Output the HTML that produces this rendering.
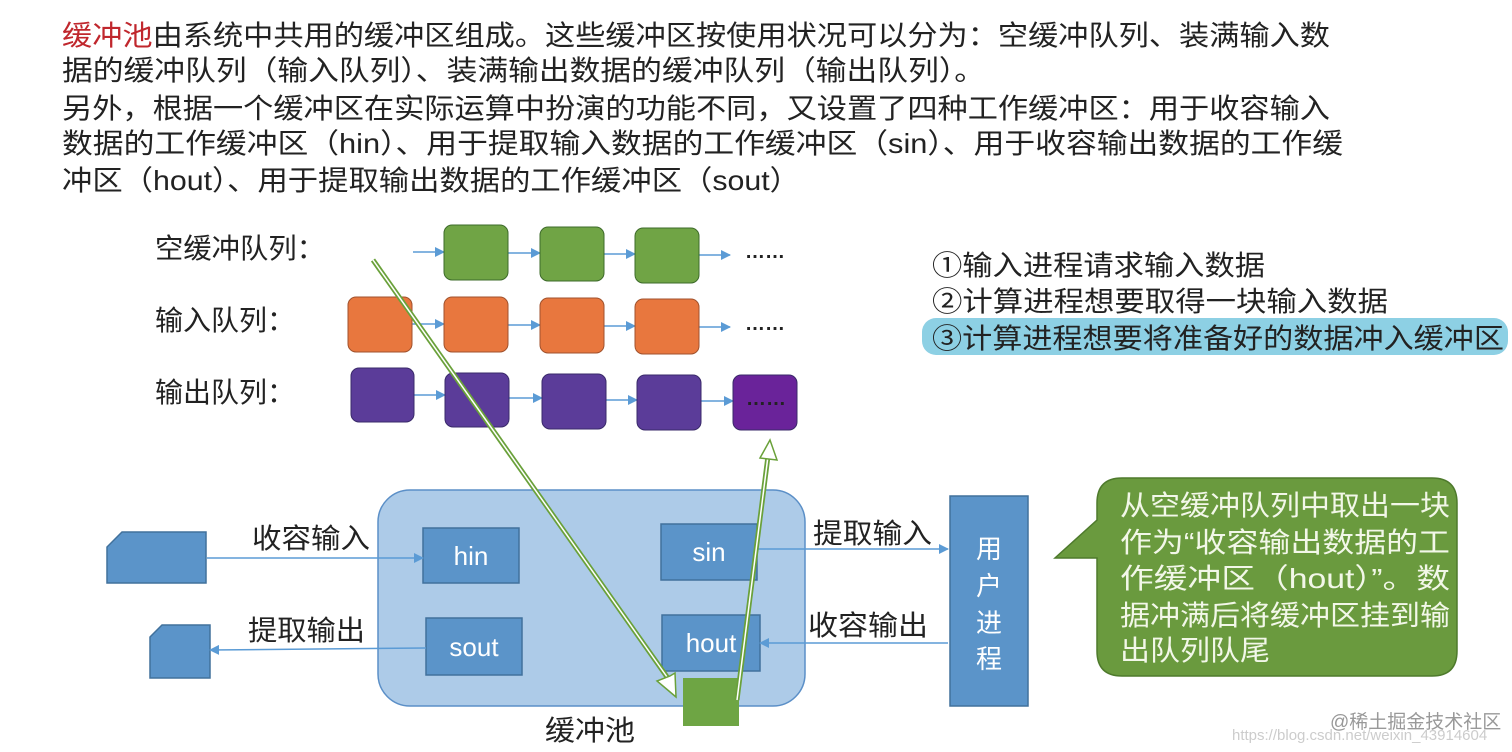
<!DOCTYPE html>
<html><head><meta charset="utf-8"><style>
html,body{margin:0;padding:0;background:#fff;width:1512px;height:752px;overflow:hidden}
svg{display:block}
text{font-family:"Liberation Sans","Noto Sans CJK SC",sans-serif}
</style></head><body>
<svg width="1512" height="752" viewBox="0 0 1512 752" xmlns="http://www.w3.org/2000/svg">
<defs>
<marker id="a" markerWidth="10" markerHeight="10" refX="9" refY="5" orient="auto" markerUnits="userSpaceOnUse"><path d="M0,0 L10,5 L0,10 Z" fill="#5b9bd5"/></marker>
</defs>
<g font-size="28" fill="#222">
<text x="62" y="45" textLength="1268" lengthAdjust="spacingAndGlyphs"><tspan fill="#c0272d">缓冲池</tspan>由系统中共用的缓冲区组成。这些缓冲区按使用状况可以分为：空缓冲队列、装满输入数</text>
<text x="62" y="80" textLength="923" lengthAdjust="spacingAndGlyphs">据的缓冲队列（输入队列）、装满输出数据的缓冲队列（输出队列）。</text>
<text x="62" y="118" textLength="1268" lengthAdjust="spacingAndGlyphs">另外，根据一个缓冲区在实际运算中扮演的功能不同，又设置了四种工作缓冲区：用于收容输入</text>
<text x="62" y="153" textLength="1281" lengthAdjust="spacingAndGlyphs">数据的工作缓冲区（hin）、用于提取输入数据的工作缓冲区（sin）、用于收容输出数据的工作缓</text>
<text x="62" y="190" textLength="738" lengthAdjust="spacingAndGlyphs">冲区（hout）、用于提取输出数据的工作缓冲区（sout）</text>
</g>
<g font-size="28" fill="#222">
<text x="155" y="258" textLength="170" lengthAdjust="spacingAndGlyphs">空缓冲队列：</text>
<text x="155" y="330" textLength="140" lengthAdjust="spacingAndGlyphs">输入队列：</text>
<text x="155" y="402" textLength="140" lengthAdjust="spacingAndGlyphs">输出队列：</text>
</g>
<g stroke="#5b9bd5" stroke-width="1.5" marker-end="url(#a)">
<line x1="413" y1="252" x2="444" y2="252"/><line x1="508" y1="253" x2="540" y2="253"/><line x1="604" y1="254" x2="635" y2="254"/><line x1="699" y1="255" x2="730" y2="255"/>
<line x1="412" y1="324" x2="444" y2="324"/><line x1="508" y1="325" x2="540" y2="325"/><line x1="604" y1="326" x2="635" y2="326"/><line x1="699" y1="327" x2="730" y2="327"/>
<line x1="414" y1="395" x2="445" y2="395"/><line x1="509" y1="398" x2="542" y2="398"/><line x1="606" y1="400" x2="637" y2="400"/><line x1="701" y1="401" x2="733" y2="401"/>
</g>
<g stroke="#3d6b2a" stroke-width="1" fill="#70a445">
<rect x="444" y="225" width="64" height="55" rx="8"/><rect x="540" y="227" width="64" height="54" rx="8"/><rect x="635" y="228" width="64" height="55" rx="8"/>
</g>
<g stroke="#a0522d" stroke-width="1" fill="#e8773e">
<rect x="348" y="297" width="64" height="55" rx="8"/><rect x="444" y="297" width="64" height="55" rx="8"/><rect x="540" y="298" width="64" height="55" rx="8"/><rect x="635" y="299" width="64" height="55" rx="8"/>
</g>
<g stroke="#3a2a6a" stroke-width="1" fill="#5b3c99">
<rect x="351" y="368" width="63" height="54" rx="8"/><rect x="445" y="373" width="64" height="54" rx="8"/><rect x="542" y="374" width="64" height="55" rx="8"/><rect x="637" y="375" width="64" height="55" rx="8"/>
<rect x="733" y="375" width="64" height="55" rx="8" fill="#6a239a"/>
</g>
<g font-size="20" fill="#222" font-weight="bold">
<text x="745" y="258">……</text><text x="745" y="330">……</text><text x="746" y="405">……</text>
</g>
<rect x="378" y="490" width="427" height="216" rx="32" fill="#adcbe8" stroke="#5b8fc7" stroke-width="1.5"/>
<g fill="#5b94c9" stroke="#41719c" stroke-width="1.5">
<rect x="423" y="528" width="96" height="55"/><rect x="426" y="618" width="96" height="57"/>
<rect x="661" y="524" width="96" height="56"/><rect x="662" y="615" width="98" height="56"/>
<rect x="950" y="496" width="78" height="210"/>
<path d="M122,532 L206,532 L206,583 L107,583 L107,547 Z"/>
<path d="M162,625 L210,625 L210,678 L150,678 L150,637 Z"/>
</g>
<g font-size="26" fill="#fff" text-anchor="middle">
<text x="471" y="565">hin</text><text x="474" y="656">sout</text><text x="709" y="561">sin</text><text x="711" y="652">hout</text>
<text x="989" y="558">用</text><text x="989" y="595">户</text><text x="989" y="632">进</text><text x="989" y="668">程</text>
</g>
<rect x="683" y="678" width="56" height="48" fill="#6ea544"/>
<g stroke="#5b9bd5" stroke-width="1.5" marker-end="url(#a)">
<line x1="207" y1="558" x2="423" y2="558"/><line x1="426" y1="648" x2="210" y2="650"/>
<line x1="757" y1="549" x2="948" y2="549"/><line x1="948" y1="643" x2="760" y2="643"/>
</g>
<g font-size="28" fill="#222">
<text x="252" y="548" textLength="118" lengthAdjust="spacingAndGlyphs">收容输入</text>
<text x="248" y="640" textLength="117" lengthAdjust="spacingAndGlyphs">提取输出</text>
<text x="813" y="543" textLength="119" lengthAdjust="spacingAndGlyphs">提取输入</text>
<text x="808" y="635" textLength="120" lengthAdjust="spacingAndGlyphs">收容输出</text>
<text x="545" y="740" textLength="90" lengthAdjust="spacingAndGlyphs">缓冲池</text>
</g>
<g fill="none" stroke-linecap="butt">
<line x1="373" y1="260" x2="672" y2="684" stroke="#6aa13a" stroke-width="5"/>
<line x1="373" y1="260" x2="672" y2="684" stroke="#fff" stroke-width="1.5"/>
<line x1="737" y1="700" x2="768" y2="456" stroke="#6aa13a" stroke-width="5"/>
<line x1="737" y1="700" x2="768" y2="456" stroke="#fff" stroke-width="1.5"/>
</g>
<polygon points="676,697 657,681 670,676 675,673" fill="#fff" stroke="#6aa13a" stroke-width="1.5"/>
<polygon points="770,440 777,460 760,458" fill="#fff" stroke="#6aa13a" stroke-width="1.5"/>
<rect x="922" y="318" width="586" height="37" rx="14" fill="#8dd0e4"/>
<g font-size="28" fill="#222">
<text x="932" y="275" textLength="333" lengthAdjust="spacingAndGlyphs">①输入进程请求输入数据</text>
<text x="932" y="311" textLength="456" lengthAdjust="spacingAndGlyphs">②计算进程想要取得一块输入数据</text>
<text x="932" y="348" textLength="572" lengthAdjust="spacingAndGlyphs">③计算进程想要将准备好的数据冲入缓冲区</text>
</g>
<path d="M1122,478 L1432,478 Q1457,478 1457,503 L1457,651 Q1457,676 1432,676 L1122,676 Q1097,676 1097,651 L1097,558 L1055,558 L1097,520 L1097,503 Q1097,478 1122,478 Z" fill="#6a9a3e" stroke="#4e7a2c" stroke-width="1.5"/>
<g font-size="28" fill="#f2f7e8">
<text x="1120" y="515" textLength="330" lengthAdjust="spacingAndGlyphs">从空缓冲队列中取出一块</text>
<text x="1120" y="552" textLength="330" lengthAdjust="spacingAndGlyphs">作为“收容输出数据的工</text>
<text x="1120" y="588" textLength="330" lengthAdjust="spacingAndGlyphs">作缓冲区（hout）”。数</text>
<text x="1120" y="625" textLength="330" lengthAdjust="spacingAndGlyphs">据冲满后将缓冲区挂到输</text>
<text x="1120" y="660" textLength="150" lengthAdjust="spacingAndGlyphs">出队列队尾</text>
</g>
<text x="1330" y="728" font-size="19" fill="#999">@稀土掘金技术社区</text>
<text x="1232" y="740" font-size="15" fill="#ccc">https://blog.csdn.net/weixin_43914604</text>
</svg>
</body></html>
